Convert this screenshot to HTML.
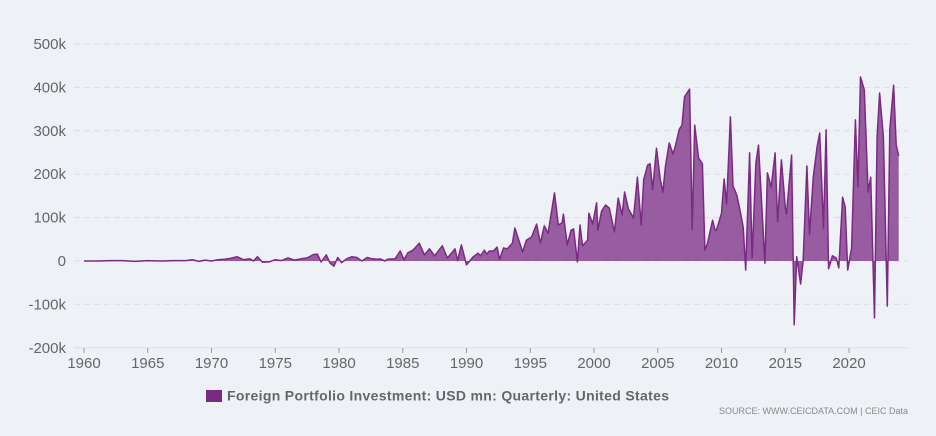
<!DOCTYPE html>
<html><head><meta charset="utf-8"><style>
html,body{margin:0;padding:0;background:#eef2f7;}
svg{display:block;font-family:"Liberation Sans","DejaVu Sans",sans-serif;}
</style></head><body>
<svg id="chart" width="936" height="436" viewBox="0 0 936 436" xmlns="http://www.w3.org/2000/svg">
<rect width="936" height="436" fill="#eef2f7"/>
<g id="grid"></g>
<g id="yaxis"></g>
<g id="xaxis"></g>
<g id="series"></g>
<g>
<rect x="206" y="390" width="16" height="12" fill="#7b2a83"/>
<text x="227" y="400.5" font-size="14" font-weight="bold" fill="#666" textLength="442" lengthAdjust="spacing">Foreign Portfolio Investment: USD mn: Quarterly: United States</text>
</g>
<text x="908" y="414" font-size="9" fill="#888" text-anchor="end">SOURCE: WWW.CEICDATA.COM | CEIC Data</text>
</svg>
<script>
const dates=[1960,1961,1962,1963,1964,1965,1966,1967,1968,1968.5,1969,1969.5,1970,1970.5,1971,1971.5,1972,1972.5,1973,1973.3,1973.6,1974,1974.5,1975,1975.5,1976,1976.5,1977,1977.5,1978,1978.3,1978.6,1979,1979.3,1979.6,1979.9,1980.2,1980.6,1981,1981.4,1981.8,1982.2,1982.6,1983,
1983.2,1983.6,1983.8,1984.4,1984.8,1985.1,1985.4,1985.8,1986.3,1986.7,1987.1,1987.5,1988.1,1988.5,1989.1,1989.3,1989.6,1990.0,1990.5,1990.9,1991.1,1991.4,1991.6,1991.8,1992.1,1992.4,1992.6,1992.9,1993.2,1993.6,1993.8,1994.4,1994.7,1995.1,1995.5,1995.8,1996.1,1996.4,1996.9,1997.2,1997.5,1997.6,1997.9,1998.2,1998.4,1998.7,1998.9,1999.1,1999.5,1999.6,1999.9,2000.2,2000.3,2000.6,2000.9,2001.2,2001.6,2001.9,2002.2,2002.4,2002.7,
2003.1,2003.4,2003.7,2003.9,2004.2,2004.4,2004.6,2004.9,2005.2,2005.4,2005.6,2005.9,2006.2,2006.4,2006.7,2006.9,2007.1,2007.5,2007.7,2007.9,2008.2,2008.5,2008.7,2008.9,2009.3,2009.5,2009.6,2010.0,2010.2,2010.4,2010.7,2010.9,2011.2,2011.5,2011.7,2011.9,2012.2,2012.4,2012.7,2012.9,2013.4,2013.6,2013.9,2014.2,2014.4,2014.7,2015.0,2015.1,2015.5,2015.7,2015.9,2016.2,2016.4,2016.7,2016.9,2017.2,2017.5,2017.7,2018.0,2018.2,2018.4,2018.7,2019.0,2019.2,2019.5,2019.7,2019.9,2020.2,2020.5,2020.7,2020.9,2021.2,2021.5,2021.7,2022.0,2022.2,2022.4,2022.7,2023.0,2023.2,2023.5,2023.7,2023.9];
const values=[0,0,1,1,-1,1,0,1,1,3,-1,2,0,3,4,6,10,3,5,0,10,-3,-2,3,1,7,2,5,7,15,16,-2,14,-5,-12,8,-4,5,10,8,0,8,5,4,
5,0,4,5,23,3,19,25,41,14,28,12,35,7,28,1,37,-9,9,18,12,25,16,23,23,32,4,30,28,41,76,21,48,55,85,41,81,64,157,83,88,108,37,71,74,-2,83,35,48,110,85,134,71,115,129,122,67,145,106,159,120,
99,193,83,187,221,224,164,260,187,159,217,272,246,267,304,313,378,396,73,313,237,224,25,41,94,71,71,110,189,131,332,173,152,110,78,-21,249,7,226,267,-5,203,170,249,90,233,124,108,244,-147,10,-53,0,219,62,194,263,295,76,302,-18,12,7,-16,147,124,-21,30,325,171,424,394,159,193,-131,286,387,286,-104,302,405,267,242];
const yTicks=[-200,-100,0,100,200,300,400,500];
const yTickLabels=["-200k","-100k","0","100k","200k","300k","400k","500k"];
const xTicks=[1960,1965,1970,1975,1980,1985,1990,1995,2000,2005,2010,2015,2020];

const NS="http://www.w3.org/2000/svg";
const xS=d=>84+(d-1960)*12.75;
const yS=v=>261-v*0.434;
function mk(tag,attrs,parent){const e=document.createElementNS(NS,tag);for(const k in attrs)e.setAttribute(k,attrs[k]);parent.appendChild(e);return e;}
const grid=document.getElementById('grid'),ya=document.getElementById('yaxis'),xa=document.getElementById('xaxis'),ser=document.getElementById('series');
yTicks.forEach((t,i)=>{
  const l=mk('line',{x1:74,x2:908,y1:yS(t),y2:yS(t),stroke:'#dcdfe4','stroke-width':1,'stroke-dasharray':t===-200?'':'6,4'},grid);
  
  
  const tx=mk('text',{x:66,y:yS(t)+5,'font-size':15,fill:'#666','text-anchor':'end'},ya);
  tx.textContent=yTickLabels[i];
  
  
});
xTicks.forEach(t=>{
  const l=mk('line',{x1:xS(t),x2:xS(t),y1:348,y2:353,stroke:'#999'},xa);
  
  
  const tx=mk('text',{x:xS(t),y:368,'font-size':15,fill:'#666','text-anchor':'middle'},xa);
  tx.textContent=String(t);
  
  
});
let line='';dates.forEach((d,i)=>{line+=(i?'L':'M')+xS(d).toFixed(1)+','+yS(values[i]).toFixed(1);});
const area=line+'L'+xS(dates[dates.length-1]).toFixed(1)+','+yS(0)+'L'+xS(dates[0]).toFixed(1)+','+yS(0)+'Z';
const a=mk('path',{d:area,fill:'#7b2a83','fill-opacity':0.75,stroke:'none'},ser);


const p=mk('path',{d:line,fill:'none',stroke:'#7b2a83','stroke-width':1.5,'stroke-linejoin':'round'},ser);


</script>
</body></html>
